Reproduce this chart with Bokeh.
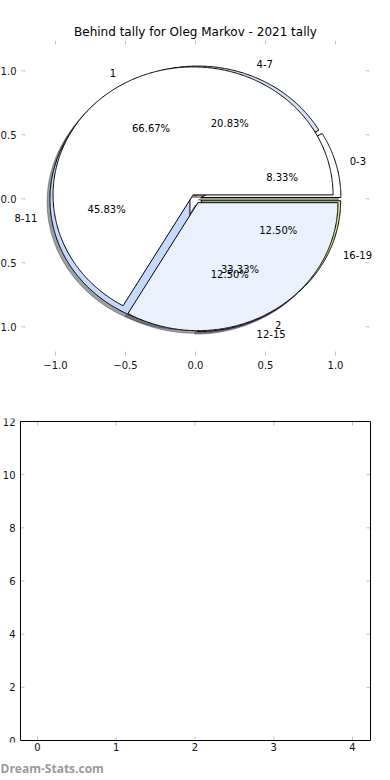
import math
from bokeh.plotting import figure
from bokeh.models import ColumnDataSource, FixedTicker, Range1d, Title
from bokeh.core.properties import value
from bokeh.layouts import column
from bokeh.embed import file_html
from bokeh.resources import INLINE

# ---------------- data ----------------
title_text = "Behind tally for Oleg Markov - 2021 tally"
outer_labels = ["1", "2"]
outer_counts = [16, 8]
inner_labels = ["0-3", "4-7", "8-11", "12-15", "16-19"]
inner_counts = [2, 5, 11, 3, 3]
pie_ticks = [-1.0, -0.5, 0.0, 0.5, 1.0]
pie_tick_labels = ["\u22121.0", "\u22120.5", "0.0", "0.5", "1.0"]
bar_x_ticks = [0, 1, 2, 3, 4]
bar_y_ticks = [0, 2, 4, 6, 8, 10, 12]
bar_y_labels = ["0", "2", "4", "6", "8", "10", "12"]
watermark = "Dream-Stats.com"

# ---------------- styles ----------------
outer_colors = ["#ffffff", "#eaf1fd"]
inner_colors = ["#ffffff", "#d3e0f7", "#c6d9fc", "#e2ebfa", "#d9e88f"]
OUTER_EXPLODE = 0.035
INNER_EXPLODE = 0.04
SHADOW_DX, SHADOW_DY = -0.02, -0.02
FONT = "DejaVu Sans"
TICK_COLOR = "#c0c0c0"
TICK_LEN = 4

# top panel geometry (frame spans the whole width; the axes box is frameless)
P1_FW, P1_FH = 390, 315
P1_X = (-1.3929, 1.3929)
P1_Y = (-1.2242, 1.2367)
P1_BOX = 1.2429
# bottom panel geometry (frame spans the whole width; the axes box is drawn)
P2_FW, P2_FH = 390, 324
P2_X = (-0.4698, 4.4825)
P2_Y = (-0.0752, 12.113)
P2_BOX_X = (-0.2159, 4.2286)
P2_BOX_Y = (0, 12)


def darken(c, f=0.3):
    r, g, b = int(c[1:3], 16), int(c[3:5], 16), int(c[5:7], 16)
    return "#%02x%02x%02x" % (int(r * f), int(g * f), int(b * f))


def build_pie(labels, counts, colors, explode):
    total = float(sum(counts))
    xs, ys, sxs, sys_ = [], [], [], []
    lab = dict(x=[], y=[], t=[], a=[])
    pct = dict(x=[], y=[], t=[])
    theta = 0.0
    for name, c in zip(labels, counts):
        t1 = theta + 360.0 * c / total
        mid = math.radians((theta + t1) / 2.0)
        cx, cy = explode * math.cos(mid), explode * math.sin(mid)
        n = max(int(t1 - theta), 2) * 2
        px, py = [cx], [cy]
        for i in range(n + 1):
            a = math.radians(theta + (t1 - theta) * i / n)
            px.append(cx + math.cos(a))
            py.append(cy + math.sin(a))
        xs.append(px)
        ys.append(py)
        sxs.append([v + SHADOW_DX for v in px])
        sys_.append([v + SHADOW_DY for v in py])
        r = 1.1 + explode
        lx, ly = r * math.cos(mid), r * math.sin(mid)
        lab["x"].append(lx); lab["y"].append(ly); lab["t"].append(name)
        lab["a"].append("left" if lx > 0 else "right")
        rp = 0.6 + explode
        pct["x"].append(rp * math.cos(mid)); pct["y"].append(rp * math.sin(mid))
        pct["t"].append("%.2f%%" % (100.0 * c / total))
        theta = t1
    return (ColumnDataSource(dict(xs=xs, ys=ys, color=colors)),
            ColumnDataSource(dict(xs=sxs, ys=sys_, color=[darken(c) for c in colors])),
            ColumnDataSource(lab), ColumnDataSource(pct))


def style_axis(ax, ticks, standoff, show_ticks=True):
    ax.ticker = FixedTicker(ticks=ticks)
    ax.axis_line_color = None
    ax.major_tick_line_color = TICK_COLOR if show_ticks else None
    ax.major_tick_line_width = 1
    ax.major_tick_in = TICK_LEN
    ax.major_tick_out = 0
    ax.minor_tick_line_color = None
    ax.major_label_text_font = FONT
    ax.major_label_text_font_size = "10px"
    ax.major_label_text_color = "#111111"
    ax.major_label_standoff = standoff


def seg(p, x0, y0, x1, y1):
    p.segment(x0=x0, y0=y0, x1=x1, y1=y1, line_color=TICK_COLOR, line_width=1)


# ---------------- top: pie ----------------
p1 = figure(frame_width=P1_FW, frame_height=P1_FH,
            min_border_left=0, min_border_right=0, min_border_top=40, min_border_bottom=45,
            x_range=Range1d(*P1_X), y_range=Range1d(*P1_Y), y_axis_location=None,
            output_backend="svg", toolbar_location=None, title=title_text)
p1.title.align = "center"
p1.title.text_font = FONT
p1.title.text_font_size = "12px"
p1.title.text_font_style = "normal"
p1.title.text_color = "#000000"
p1.title.standoff = 4
p1.grid.visible = False
p1.outline_line_color = None
p1.background_fill_color = "white"
p1.border_fill_color = "white"
style_axis(p1.xaxis[0], pie_ticks, 5)
p1.xaxis[0].major_label_overrides = {t: l for t, l in zip(pie_ticks, pie_tick_labels)}

sx1 = P1_FW / (P1_X[1] - P1_X[0])
sy1 = P1_FH / (P1_Y[1] - P1_Y[0])
n1 = len(pie_ticks)
seg(p1, [-P1_BOX] * n1, pie_ticks, [-P1_BOX + TICK_LEN / sx1] * n1, pie_ticks)
seg(p1, [P1_BOX] * n1, pie_ticks, [P1_BOX - TICK_LEN / sx1] * n1, pie_ticks)
seg(p1, pie_ticks, [P1_Y[1]] * n1, pie_ticks, [P1_Y[1] - TICK_LEN / sy1] * n1)
p1.text(x=[-P1_BOX] * n1, y=pie_ticks, text=pie_tick_labels, x_offset=-5,
        text_align="right", text_baseline="middle", text_font=value(FONT),
        text_font_size="10px", text_color="#111111")

inner = build_pie(inner_labels, inner_counts, inner_colors, INNER_EXPLODE)
outer = build_pie(outer_labels, outer_counts, outer_colors, OUTER_EXPLODE)

for pie in (inner, outer):
    p1.patches(xs="xs", ys="ys", source=pie[1], fill_color="color", fill_alpha=0.5,
               line_color="color", line_alpha=0.5, line_width=1)
for pie in (inner, outer):
    p1.patches(xs="xs", ys="ys", source=pie[0], fill_color="color",
               line_color="black", line_width=1)
for pie in (inner, outer):
    p1.text(x="x", y="y", text="t", source=pie[2], text_align="a", text_baseline="middle",
            text_font=value(FONT), text_font_size="10px", text_color="#000000")
    p1.text(x="x", y="y", text="t", source=pie[3], text_align="center", text_baseline="middle",
            text_font=value(FONT), text_font_size="10px", text_color="#000000")

# ---------------- bottom: empty axes ----------------
p2 = figure(frame_width=P2_FW, frame_height=P2_FH,
            min_border_left=0, min_border_right=0, min_border_top=18, min_border_bottom=36,
            x_range=Range1d(*P2_X), y_range=Range1d(*P2_Y), y_axis_location=None,
            output_backend="svg", toolbar_location=None)
p2.grid.visible = False
p2.outline_line_color = None
p2.background_fill_color = "white"
p2.border_fill_color = "white"
style_axis(p2.xaxis[0], bar_x_ticks, 0, show_ticks=False)

sx2 = P2_FW / (P2_X[1] - P2_X[0])
sy2 = P2_FH / (P2_Y[1] - P2_Y[0])
bl, br = P2_BOX_X
bb, bt = P2_BOX_Y
nx, ny = len(bar_x_ticks), len(bar_y_ticks)
seg(p2, bar_x_ticks, [bt] * nx, bar_x_ticks, [bt - TICK_LEN / sy2] * nx)
seg(p2, bar_x_ticks, [bb] * nx, bar_x_ticks, [bb + TICK_LEN / sy2] * nx)
seg(p2, [bl] * ny, bar_y_ticks, [bl + TICK_LEN / sx2] * ny, bar_y_ticks)
seg(p2, [br] * ny, bar_y_ticks, [br - TICK_LEN / sx2] * ny, bar_y_ticks)
p2.quad(left=[bl], right=[br], bottom=[bb], top=[bt], fill_color=None,
        line_color="black", line_width=1)
p2.text(x=[bl] * ny, y=bar_y_ticks, text=bar_y_labels, x_offset=-5,
        text_align="right", text_baseline="middle", text_font=value(FONT),
        text_font_size="10px", text_color="#111111")

p2.add_layout(Title(text=watermark, align="left", offset=0, standoff=8,
                    text_font="Open Sans", text_font_size="12px", text_font_style="bold",
                    text_color="#9a9a9a"), "below")

layout = column(p1, p2)
open("out.html", "w").write(file_html(layout, INLINE))
